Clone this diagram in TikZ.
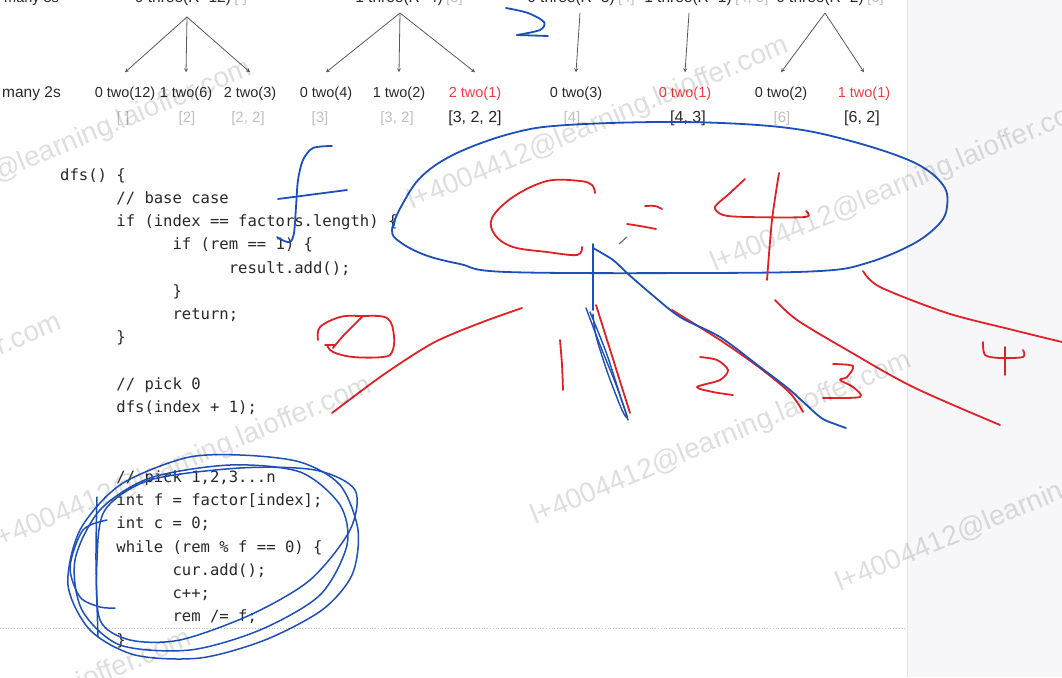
\documentclass[tikz,border=0pt]{standalone}
\usepackage{fontspec}
\setmainfont{Liberation Sans}
\setmonofont{DejaVu Sans Mono}
\usetikzlibrary{calc,positioning}

\definecolor{inkblue}{RGB}{30,78,186}
\definecolor{inkred}{RGB}{226,32,38}
\definecolor{hitred}{RGB}{236,62,62}
\definecolor{txt}{RGB}{40,40,40}
\definecolor{listgray}{RGB}{192,192,192}
\definecolor{panel}{RGB}{247,247,249}

\newcommand{\I}{\hspace*{3.612em}}

\begin{document}
\begin{tikzpicture}
  [x=1pt, y=-1pt,
   tree text/.style={font=\fontsize{14.5}{17}\selectfont, text=txt, inner sep=0pt, anchor=base},
   hit/.style={tree text, text=hitred},
   partial/.style={font=\fontsize{15}{17}\selectfont, text=listgray, inner sep=0pt, anchor=base},
   result/.style={partial, font=\fontsize{16}{18}\selectfont, text=txt},
   edge/.style={>=stealth, ->, draw=black!65, line width=0.8pt},
   ink/.style={line width=1.8pt, line cap=round, line join=round},
   blue ink/.style={ink, draw=inkblue},
   red ink/.style={ink, draw=inkred},
   wmark/.style={font=\fontsize{28}{30}\selectfont, text=black, opacity=0.13,
                 rotate=22.7, anchor=base west, inner sep=0pt},
   code/.style={font=\ttfamily\fontsize{15.56}{23.25}\selectfont, text=txt,
                align=left, inner sep=0pt, anchor=north west}]

  \useasboundingbox (0,0) rectangle (1062,677);
  \clip (0,0) rectangle (1062,677);

  % page and side panel
  \fill[panel] (907,0) rectangle (1062,677);
  \draw[black!10] (907,0) -- (907,677);
  \draw[black!22, dotted, line width=0.8pt] (0,628) -- (907,628);

  % many 3s (cut at the top)
  \node[tree text, anchor=base west] (r3) at (4,3) {many 3s};
  \node[tree text, font=\fontsize{15.5}{17}\selectfont] (p1) at (183,3) {0 three(R=12)};
  \node[partial, anchor=base west] (q1) at ([xshift=3pt]p1.base east) {[ ]};
  \node[tree text, font=\fontsize{15.5}{17}\selectfont] (p2) at (399,3) {1 three(R=4)};
  \node[partial, anchor=base west] (q2) at ([xshift=3pt]p2.base east) {[3]};
  \node[tree text, font=\fontsize{15.5}{17}\selectfont] (p3) at (571,3) {0 three(R=3)};
  \node[partial, anchor=base west] (q3) at ([xshift=3pt]p3.base east) {[4]};
  \node[tree text, font=\fontsize{15.5}{17}\selectfont] (p4) at (688,3) {1 three(R=1)};
  \node[partial, anchor=base west] (q4) at ([xshift=3pt]p4.base east) {[4, 3]};
  \node[tree text, font=\fontsize{15.5}{17}\selectfont] (p5) at (820,3) {0 three(R=2)};
  \node[partial, anchor=base west] (q5) at ([xshift=3pt]p5.base east) {[6]};

  % many 2s
  \node[tree text, font=\fontsize{15.5}{17}\selectfont, anchor=base west] (r2) at (2,97) {many 2s};
  \node[tree text] (c1)  at (125,97) {0 two(12)};
  \node[tree text] (c2)  at (186,97) {1 two(6)};
  \node[tree text] (c3)  at (250,97) {2 two(3)};
  \node[tree text] (c4)  at (326,97) {0 two(4)};
  \node[tree text] (c5)  at (399,97) {1 two(2)};
  \node[hit]       (c6)  at (475,97) {2 two(1)};
  \node[tree text] (c7)  at (576,97) {0 two(3)};
  \node[hit]       (c8)  at (685,97) {0 two(1)};
  \node[tree text] (c9)  at (781,97) {0 two(2)};
  \node[hit]       (c10) at (864,97) {1 two(1)};

  \node[partial] (l1)  at (123,122) {[ ]};
  \node[partial] (l2)  at (187,122) {[2]};
  \node[partial] (l3)  at (248,122) {[2, 2]};
  \node[partial] (l4)  at (320,122) {[3]};
  \node[partial] (l5)  at (397,122) {[3, 2]};
  \node[result]  (l6)  at (475,122) {[3, 2, 2]};
  \node[partial] (l7)  at (572,122) {[4]};
  \node[result]  (l8)  at (688,122) {[4, 3]};
  \node[partial] (l9)  at (782,122) {[6]};
  \node[result]  (l10) at (862,122) {[6, 2]};

  % arrows
  \coordinate (a1) at (187,17);
  \coordinate (a2) at (400,13);
  \coordinate (a3) at (580,13);
  \coordinate (a4) at (689,13);
  \coordinate (a5) at (825,13);
  \foreach \a/\c in {a1/c1, a1/c2, a1/c3, a2/c4, a2/c5, a2/c6, a3/c7, a4/c8, a5/c9, a5/c10}
    \draw[edge] (\a) -- ($(\c.north)+(0,-14)$);

  % code
  \node[code] (dfs) at (60,168) {dfs() \{\\
\I// base case\\
\I if (index == factors.length) \{\\
\I\I if (rem == 1) \{\\
\I\I\I result.add();\\
\I\I \}\\
\I\I return;\\
\I\}\\
\mbox{}\\
\I// pick 0\\
\I dfs(index + 1);\\
\mbox{}\\
\mbox{}\\
\I// pick 1,2,3...n\\
\I int f = factor[index];\\
\I int c = 0;\\
\I while (rem \% f == 0) \{\\
\I\I cur.add();\\
\I\I c++;\\
\I\I rem /= f;\\
\I\}};

  % ink: c = 4
  \draw[blue ink] plot[smooth cycle, tension=0.6] coordinates {(392,230) (402,205) (422,176) (457,153) (513,133) (567,125) (680,122) (780,127) (847,140) (913,162) (943,185) (947,207) (939,224) (913,244) (867,263) (820,271) (700,273) (507,272) (460,264) (425,255) (400,242)};
  \draw[blue ink, line width=1.2pt] (396,216) -- (394,226);
  \draw[red ink] plot[smooth, tension=0.6] coordinates {(582,247) (577,255) (547,252) (513,247) (495,235) (492,218) (513,197) (547,181) (580,181) (592,185) (595,193)};
  \draw[red ink] plot[smooth] coordinates {(645,206) (655,206) (662,209)};
  \draw[red ink] plot[smooth] coordinates {(627,224) (640,226) (656,229)};
  \draw[red ink] plot[smooth, tension=0.5] coordinates {(745,179) (730,193) (715,207) (723,215) (747,217) (805,217) (806,211)};
  \draw[red ink] plot[smooth] coordinates {(779,173) (772,220) (767,280)};
  \draw[black!55, line width=1.2pt] (619,244) -- (627,237);

  % ink: branches 0..4
  \draw[red ink] plot[smooth] coordinates {(522,308) (480,323) (433,343) (383,375) (332,413)};
  \draw[red ink] plot[smooth, tension=0.6] coordinates {(318,340) (320,327) (340,317) (360,316) (387,318) (394,336) (392,352) (383,357) (353,357) (333,352) (327,345)};
  \draw[red ink] plot[smooth] coordinates {(325,345) (335,345)};
  \draw[red ink] plot[smooth] coordinates {(333,348) (343,336) (362,317)};
  \draw[red ink] plot[smooth] coordinates {(560,340) (562,365) (563,390)};
  \draw[red ink] (596,305) -- (630,413);
  \draw[red ink] plot[smooth] coordinates {(672,310) (720,340) (760,368) (790,393) (803,412)};
  \draw[red ink] plot[smooth, tension=0.5] coordinates {(700,357) (717,360) (728,370) (720,380) (697,387) (713,392) (733,395)};
  \draw[red ink] plot[smooth, tension=0.5] coordinates {(833,364) (853,366) (847,377) (840,380) (853,387) (860,397) (823,398)};
  \draw[red ink] plot[smooth] coordinates {(775,300) (797,320) (847,350) (913,387) (1000,425)};
  \draw[red ink] plot[smooth] coordinates {(863,271) (880,287) (947,313) (1013,330) (1070,344)};
  \draw[red ink] plot[smooth, tension=0.5] coordinates {(983,342) (985,355) (1000,358) (1023,357) (1023,350)};
  \draw[red ink] (1005,347) -- (1005,375);

  \draw[blue ink] (593,244) -- (593,310);
  \draw[blue ink] plot[smooth] coordinates {(593,248) (613,260) (627,273) (650,293) (680,317) (720,337) (760,367) (790,390) (820,417) (835,424) (846,428)};
  \draw[blue ink, line width=1.4pt] plot[smooth] coordinates {(586,308) (600,345) (615,382) (625,410) (628,420)};
  \draw[blue ink, line width=1.4pt] plot[smooth] coordinates {(590,312) (606,352) (620,395) (627,417) (622,410) (608,374) (596,336) (593,314)};

  % ink: f, 2
  \draw[blue ink] plot[smooth] coordinates {(332,146) (313,148) (303,160) (298,180) (296,207) (294,233) (290,242) (282,240) (277,237)};
  \draw[blue ink] (278,199) -- (347,190);
  \draw[blue ink] plot[smooth, tension=0.5] coordinates {(506,8) (528,13) (544,22) (540,30) (517,35)};
  \draw[blue ink] (517,35) -- (548,36);

  % ink: loops round the loop body
  \draw[blue ink, line width=1.5pt] plot[smooth cycle] coordinates {(68,585) (80,530) (120,485) (185,458) (240,455) (300,462) (340,485) (358,530) (352,575) (322,610) (265,640) (200,658) (135,655) (90,630)};
  \draw[blue ink, line width=1.5pt] plot[smooth cycle] coordinates {(75,560) (100,510) (150,478) (230,465) (300,472) (340,505) (347,545) (320,595) (260,630) (190,650) (120,645) (82,610)};
  \draw[blue ink, line width=1.5pt] plot[smooth cycle] coordinates {(100,620) (97,560) (105,510) (150,480) (240,468) (315,470) (355,490) (350,530) (310,580) (250,615) (180,640) (130,640)};
  \draw[blue ink, line width=1.5pt] plot[smooth] coordinates {(97,497) (96,560) (98,637)};
  \draw[blue ink, line width=1.5pt] plot[smooth] coordinates {(107,520) (83,530) (70,567) (80,597) (100,607) (115,608)};

  % watermark
  \foreach \x/\y [count=\i] in {-125/233, -315/487, -5/550, -185/803, 412/210, 715/272, 535/525, 840/592}
    \node[wmark] (w\i) at (\x,\y) {l+4004412@learning.laioffer.com};
\end{tikzpicture}
\end{document}
